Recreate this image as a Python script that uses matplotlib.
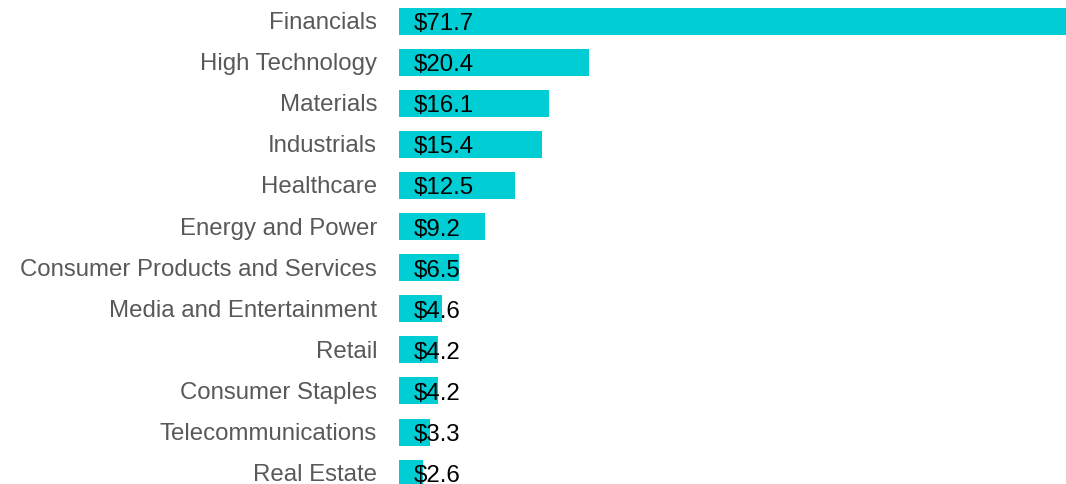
import matplotlib
matplotlib.use("Agg")
import matplotlib.pyplot as plt
from matplotlib.transforms import offset_copy

categories = ["Financials", "High Technology", "Materials", "Industrials", "Healthcare",
              "Energy and Power", "Consumer Products and Services", "Media and Entertainment",
              "Retail", "Consumer Staples", "Telecommunications", "Real Estate"]
values = [71.7, 20.4, 16.1, 15.4, 12.5, 9.2, 6.5, 4.6, 4.2, 4.2, 3.3, 2.6]

W, H, DPI = 1066, 485, 100
fig = plt.figure(figsize=(W / DPI, H / DPI), dpi=DPI)
ax = fig.add_axes([399 / W, 0, 667 / W, 1])

step = 41.1
y = list(range(len(categories)))
ax.barh(y, values, height=27 / step, color="#00CED4", edgecolor="none")
ax.set_xlim(0, max(values))
ax.set_ylim((H - 22) / step, -22 / step)
ax.axis("off")

fam = ["Liberation Sans", "DejaVu Sans"]
lab_tr = offset_copy(ax.transData, fig=fig, x=-22, y=-1, units="dots")
val_tr = offset_copy(ax.transData, fig=fig, x=15, y=-2, units="dots")
for i, (c, v) in enumerate(zip(categories, values)):
    ax.text(0, i, c, transform=lab_tr, ha="right", va="center", fontsize=17.3,
            color="#595959", family=fam, clip_on=False)
    ax.text(0, i, f"${v:.1f}", transform=val_tr, ha="left", va="center", fontsize=17.3,
            color="black", family=fam, clip_on=False)

fig.savefig("out.png", dpi=DPI)
